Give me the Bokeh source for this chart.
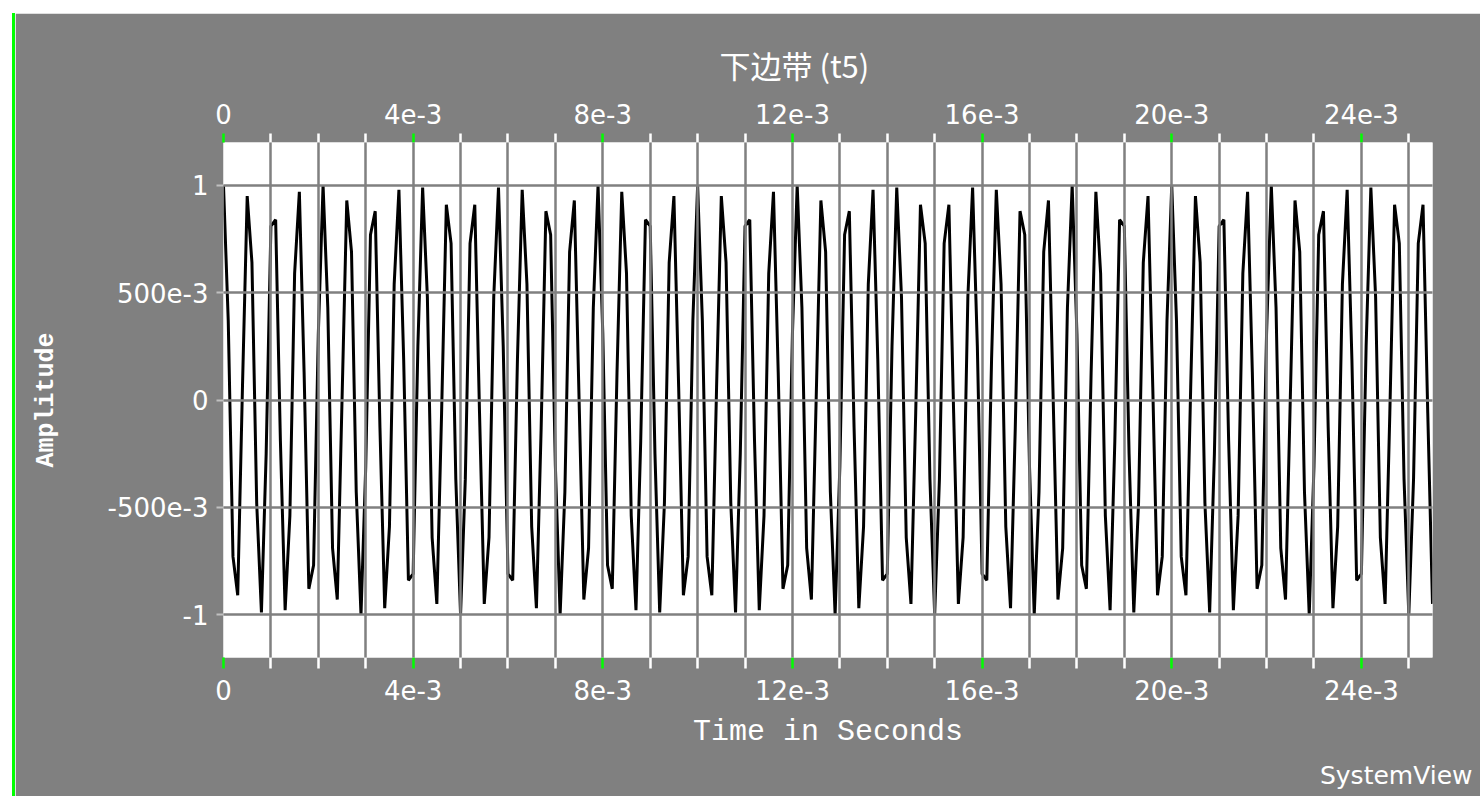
import numpy as np
from bokeh.plotting import figure
from bokeh.models import Range1d, LinearAxis, FixedTicker, Title, Div
from bokeh.layouts import row
from bokeh.embed import file_html
from bokeh.resources import INLINE

# ---- data (one sample every 0.1e-3 s) ----
sample_step = 1e-4
amplitude = [
    1.00, 0.37, -0.73, -0.91, 0.06, 0.95, 0.64, -0.48, -0.99, -0.25,
    0.81, 0.84, -0.19, -0.98, -0.54, 0.59, 0.97, 0.13, -0.88, -0.77,
    0.31, 1.00, 0.43, -0.69, -0.93, 0.00, 0.93, 0.69, -0.43, -1.00,
    -0.31, 0.77, 0.88, -0.13, -0.97, -0.59, 0.54, 0.98, 0.19, -0.84,
    -0.81, 0.25, 0.99, 0.48, -0.64, -0.95, -0.06, 0.91, 0.73, -0.37,
    -1.00, -0.37, 0.73, 0.91, -0.06, -0.95, -0.64, 0.48, 0.99, 0.25,
    -0.81, -0.84, 0.19, 0.98, 0.54, -0.59, -0.97, -0.13, 0.88, 0.77,
    -0.31, -1.00, -0.43, 0.69, 0.93, 0.00, -0.93, -0.69, 0.43, 1.00,
    0.31, -0.77, -0.88, 0.13, 0.97, 0.59, -0.54, -0.98, -0.19, 0.84,
    0.81, -0.25, -0.99, -0.48, 0.64, 0.95, 0.06, -0.91, -0.73, 0.37,
    1.00, 0.37, -0.73, -0.91, 0.06, 0.95, 0.64, -0.48, -0.99, -0.25,
    0.81, 0.84, -0.19, -0.98, -0.54, 0.59, 0.97, 0.13, -0.88, -0.77,
    0.31, 1.00, 0.43, -0.69, -0.93, 0.00, 0.93, 0.69, -0.43, -1.00,
    -0.31, 0.77, 0.88, -0.13, -0.97, -0.59, 0.54, 0.98, 0.19, -0.84,
    -0.81, 0.25, 0.99, 0.48, -0.64, -0.95, -0.06, 0.91, 0.73, -0.37,
    -1.00, -0.37, 0.73, 0.91, -0.06, -0.95, -0.64, 0.48, 0.99, 0.25,
    -0.81, -0.84, 0.19, 0.98, 0.54, -0.59, -0.97, -0.13, 0.88, 0.77,
    -0.31, -1.00, -0.43, 0.69, 0.93, 0.00, -0.93, -0.69, 0.43, 1.00,
    0.31, -0.77, -0.88, 0.13, 0.97, 0.59, -0.54, -0.98, -0.19, 0.84,
    0.81, -0.25, -0.99, -0.48, 0.64, 0.95, 0.06, -0.91, -0.73, 0.37,
    1.00, 0.37, -0.73, -0.91, 0.06, 0.95, 0.64, -0.48, -0.99, -0.25,
    0.81, 0.84, -0.19, -0.98, -0.54, 0.59, 0.97, 0.13, -0.88, -0.77,
    0.31, 1.00, 0.43, -0.69, -0.93, 0.00, 0.93, 0.69, -0.43, -1.00,
    -0.31, 0.77, 0.88, -0.13, -0.97, -0.59, 0.54, 0.98, 0.19, -0.84,
    -0.81, 0.25, 0.99, 0.48, -0.64, -0.95, -0.06, 0.91, 0.73, -0.37,
    -1.00, -0.37, 0.73, 0.91, -0.06, -0.95,
]
time_s = np.arange(len(amplitude)) * sample_step

x_major = [0, 0.004, 0.008, 0.012, 0.016, 0.020, 0.024]
x_labels = ["0", "4e-3", "8e-3", "12e-3", "16e-3", "20e-3", "24e-3"]
x_grid = [k / 1000 for k in range(26)]
x_minor = [k / 1000 for k in range(26) if k % 4]
y_major = [-1, -0.5, 0, 0.5, 1]
y_labels = ["-1", "-500e-3", "0", "500e-3", "1"]

title_text = "下边带 (t5)"
x_title = "Time in Seconds"
y_title = "Amplitude"
brand = "SystemView"

GRAY = "#808080"
GREEN = "#00ff00"

p = figure(width=1465, height=783, output_backend="svg", toolbar_location=None,
           x_range=Range1d(0, 0.0255), y_range=Range1d(-1.2, 1.2),
           min_border_left=208, min_border_right=48, min_border_top=129,
           min_border_bottom=138, margin=(13, 0, 0, 0))
p.border_fill_color = GRAY
p.background_fill_color = "white"
p.outline_line_color = None

p.title.text = title_text
p.title.align = "left"
p.title.offset = 496
p.title.text_color = "white"
p.title.text_font = "Noto Sans CJK SC"
p.title.text_font_size = "31px"
p.title.text_font_style = "normal"
p.title.standoff = 27

p.line(time_s, amplitude, line_color="black", line_width=3)

xticker = FixedTicker(ticks=x_major, minor_ticks=x_minor)
overrides_x = {v: s for v, s in zip(x_major, x_labels)}


def style_x(ax, out_len):
    ax.ticker = xticker
    ax.major_label_overrides = overrides_x
    ax.axis_line_color = None
    ax.major_tick_line_color = GREEN
    ax.minor_tick_line_color = "white"
    ax.major_tick_line_width = 2.5
    ax.minor_tick_line_width = 2.5
    ax.major_tick_out = out_len
    ax.major_tick_in = 0
    ax.minor_tick_out = out_len
    ax.minor_tick_in = 0
    ax.major_label_text_color = "white"
    ax.major_label_text_font = "DejaVu Sans"
    ax.major_label_text_font_size = "26px"


bottom = p.xaxis[0]
style_x(bottom, 11)
bottom.major_label_standoff = 11
bottom.axis_label = x_title
bottom.axis_label_text_color = "white"
bottom.axis_label_text_font = "Liberation Mono"
bottom.axis_label_text_font_size = "30px"
bottom.axis_label_text_font_style = "normal"
bottom.axis_label_standoff = 12

top = LinearAxis()
style_x(top, 9)
top.major_label_standoff = 10
p.add_layout(top, "above")

yax = p.yaxis[0]
yax.ticker = FixedTicker(ticks=y_major, minor_ticks=[])
yax.major_label_overrides = {v: s for v, s in zip(y_major, y_labels)}
yax.axis_line_color = None
yax.major_tick_line_color = "#c0c0c0"
yax.major_tick_line_width = 2
yax.major_tick_out = 7
yax.major_tick_in = 0
yax.minor_tick_line_color = None
yax.major_label_standoff = 8
yax.major_label_text_color = "white"
yax.major_label_text_font = "DejaVu Sans"
yax.major_label_text_font_size = "26px"
yax.axis_label = y_title
yax.axis_label_text_color = "white"
yax.axis_label_text_font = "Liberation Mono"
yax.axis_label_text_font_size = "25px"
yax.axis_label_text_font_style = "bold"
yax.axis_label_standoff = 44

p.xgrid.ticker = FixedTicker(ticks=x_grid)
p.xgrid.grid_line_color = GRAY
p.xgrid.grid_line_width = 2.5
p.ygrid.ticker = FixedTicker(ticks=y_major)
p.ygrid.grid_line_color = GRAY
p.ygrid.grid_line_width = 2.5
p.xgrid.level = "overlay"
p.ygrid.level = "overlay"

p.add_layout(Title(text=brand, align="right", text_color="white",
                   text_font="DejaVu Sans", text_font_size="25px",
                   text_font_style="normal", offset=-40, standoff=14), "below")

edge = Div(text="", width=3, height=783, margin=(13, 0, 0, 12),
           styles={"background-color": GREEN})

layout = row(edge, p)
open("out.html", "w").write(file_html(layout, INLINE))
